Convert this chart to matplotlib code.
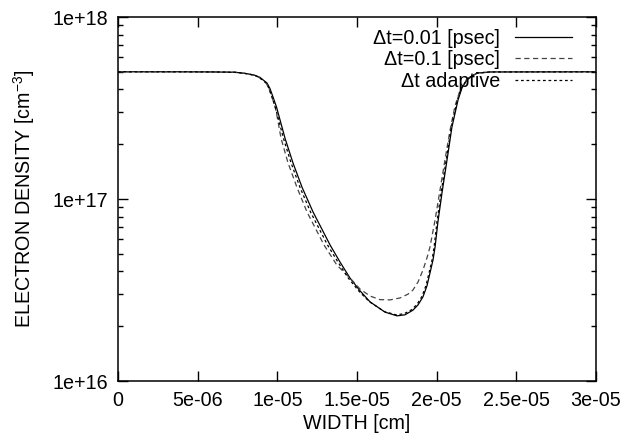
import matplotlib
matplotlib.use("Agg")
import matplotlib.pyplot as plt
import numpy as np

# ---- data (x in cm, electron density in cm^-3) ----
x_fine = [0, 4.0e-6, 6.0e-6, 7.34e-6, 7.97e-6, 8.54e-6, 8.91e-6, 9.04e-6, 9.35e-6, 9.54e-6,
          9.73e-6, 9.95e-6, 10.04e-6, 10.48e-6, 10.98e-6, 11.55e-6, 12.24e-6, 13.31e-6,
          13.93e-6, 14.56e-6, 15.19e-6, 15.82e-6, 16.76e-6, 17.51e-6, 18.01e-6, 18.51e-6,
          18.83e-6, 19.14e-6, 19.39e-6, 19.58e-6, 19.77e-6, 19.9e-6, 20.08e-6, 20.34e-6,
          20.65e-6, 20.96e-6, 21.34e-6, 21.59e-6, 21.9e-6, 22.22e-6, 22.53e-6, 23.35e-6, 30e-6]
n_fine = [5.0e17, 5.0e17, 4.99e17, 4.97e17, 4.9e17, 4.8e17, 4.66e17, 4.56e17, 4.34e17, 4.04e17,
          3.63e17, 3.2e17, 2.99e17, 2.16e17, 1.58e17, 1.16e17, 8.49e16, 5.59e16,
          4.51e16, 3.68e16, 3.13e16, 2.72e16, 2.39e16, 2.28e16, 2.31e16, 2.45e16,
          2.62e16, 2.9e16, 3.33e16, 3.92e16, 4.62e16, 5.45e16, 7.5e16, 1.09e17,
          1.64e17, 2.49e17, 3.5e17, 4.08e17, 4.51e17, 4.74e17, 4.92e17, 4.99e17, 5.0e17]

x_coarse = [0, 4.0e-6, 6.0e-6, 7.3e-6, 7.93e-6, 8.48e-6, 8.85e-6, 8.98e-6, 9.29e-6, 9.48e-6,
            9.67e-6, 9.86e-6, 9.94e-6, 10.23e-6, 10.67e-6, 11.23e-6, 11.86e-6, 12.93e-6,
            13.74e-6, 14.56e-6, 15.19e-6, 15.82e-6, 16.44e-6, 17.07e-6, 17.7e-6, 18.2e-6,
            18.51e-6, 18.83e-6, 19.14e-6, 19.39e-6, 19.58e-6, 19.9e-6, 20.21e-6, 20.52e-6,
            20.84e-6, 21.15e-6, 21.47e-6, 21.9e-6, 22.53e-6, 23.35e-6, 30e-6]
n_coarse = [5.0e17, 5.0e17, 4.99e17, 4.97e17, 4.9e17, 4.8e17, 4.66e17, 4.56e17, 4.34e17, 4.04e17,
            3.63e17, 3.2e17, 2.99e17, 2.16e17, 1.58e17, 1.16e17, 8.49e16, 5.59e16,
            4.33e16, 3.68e16, 3.2e16, 2.93e16, 2.8e16, 2.79e16, 2.86e16, 3.0e16,
            3.16e16, 3.5e16, 4.07e16, 4.74e16, 5.45e16, 7.67e16, 1.12e17, 1.64e17,
            2.39e17, 3.24e17, 3.97e17, 4.57e17, 4.9e17, 4.99e17, 5.0e17]

x_adapt = [0, 4.0e-6, 6.0e-6, 7.32e-6, 7.95e-6, 8.5e-6, 8.87e-6, 9.0e-6, 9.3e-6, 9.48e-6,
           9.66e-6, 9.87e-6, 9.96e-6, 10.38e-6, 10.86e-6, 11.42e-6, 12.08e-6, 13.15e-6,
           13.8e-6, 14.45e-6, 15.1e-6, 15.75e-6, 16.7e-6, 17.45e-6, 17.95e-6, 18.45e-6,
           18.77e-6, 19.08e-6, 19.33e-6, 19.52e-6, 19.71e-6, 19.84e-6, 20.02e-6, 20.28e-6,
           20.6e-6, 20.92e-6, 21.3e-6, 21.56e-6, 21.88e-6, 22.2e-6, 22.53e-6, 23.35e-6, 30e-6]
n_adapt = [5.0e17, 5.0e17, 4.99e17, 4.97e17, 4.9e17, 4.8e17, 4.66e17, 4.56e17, 4.34e17, 4.04e17,
           3.63e17, 3.2e17, 2.99e17, 2.16e17, 1.58e17, 1.16e17, 8.49e16, 5.59e16,
           4.51e16, 3.68e16, 3.13e16, 2.74e16, 2.41e16, 2.31e16, 2.34e16, 2.47e16,
           2.64e16, 2.92e16, 3.35e16, 3.92e16, 4.62e16, 5.45e16, 7.5e16, 1.09e17,
           1.64e17, 2.49e17, 3.5e17, 4.08e17, 4.51e17, 4.74e17, 4.92e17, 4.99e17, 5.0e17]

labels = ["\u0394t=0.01 [psec]", "\u0394t=0.1 [psec]", "\u0394t adaptive"]
x_ticks = [0, 5e-6, 1e-5, 1.5e-5, 2e-5, 2.5e-5, 3e-5]
x_ticklabels = ["0", "5e-06", "1e-05", "1.5e-05", "2e-05", "2.5e-05", "3e-05"]
y_ticks = [1e16, 1e17, 1e18]
y_ticklabels = ["1e+16", "1e+17", "1e+18"]

FS = 14.2
plt.rcParams['font.family'] = ['Liberation Sans', 'DejaVu Sans']
plt.rcParams['mathtext.default'] = 'regular'
plt.rcParams['font.size'] = FS

fig = plt.figure(figsize=(6.28, 4.40), dpi=100)
ax = fig.add_axes([118/628, 1-381/440, (596-118)/628, (381-17)/440])

l1, = ax.plot(x_fine, n_fine, color='black', lw=0.9, label=labels[0])
l2, = ax.plot(x_coarse, n_coarse, color='#444444', lw=0.9, label=labels[1])
l2.set_dashes([4.2, 2.8])
l3, = ax.plot(x_adapt, n_adapt, color='black', lw=0.9, label=labels[2])
l3.set_dashes([2.2, 2.2])

ax.set_yscale('log')
ax.set_xlim(0, 3e-5)
ax.set_ylim(1e16, 1e18)
ax.set_xticks(x_ticks)
ax.set_xticklabels(x_ticklabels)
ax.set_yticks(y_ticks)
ax.set_yticklabels(y_ticklabels)
ax.yaxis.set_minor_locator(matplotlib.ticker.LogLocator(base=10, subs=np.arange(2, 10)))
ax.yaxis.set_minor_formatter(matplotlib.ticker.NullFormatter())
ax.xaxis.set_minor_locator(matplotlib.ticker.NullLocator())

ax.tick_params(which='major', direction='in', length=7, width=1.0, top=True, right=True,
               labelsize=FS, pad=7)
ax.tick_params(which='minor', direction='in', length=3.5, width=1.0, top=True, right=True)
for s in ax.spines.values():
    s.set_linewidth(1.1)

ax.set_xlabel("WIDTH [cm]", fontsize=FS, labelpad=3)
ax.set_ylabel("ELECTRON DENSITY [cm$^{-3}$]", fontsize=FS, labelpad=11)

ax.legend(loc='upper right', bbox_to_anchor=(0.979, 1.005), frameon=False, markerfirst=False,
          handlelength=2.9, handletextpad=0.76, labelspacing=0.12, fontsize=FS, borderaxespad=0.3)

fig.savefig("out.png", dpi=100)
